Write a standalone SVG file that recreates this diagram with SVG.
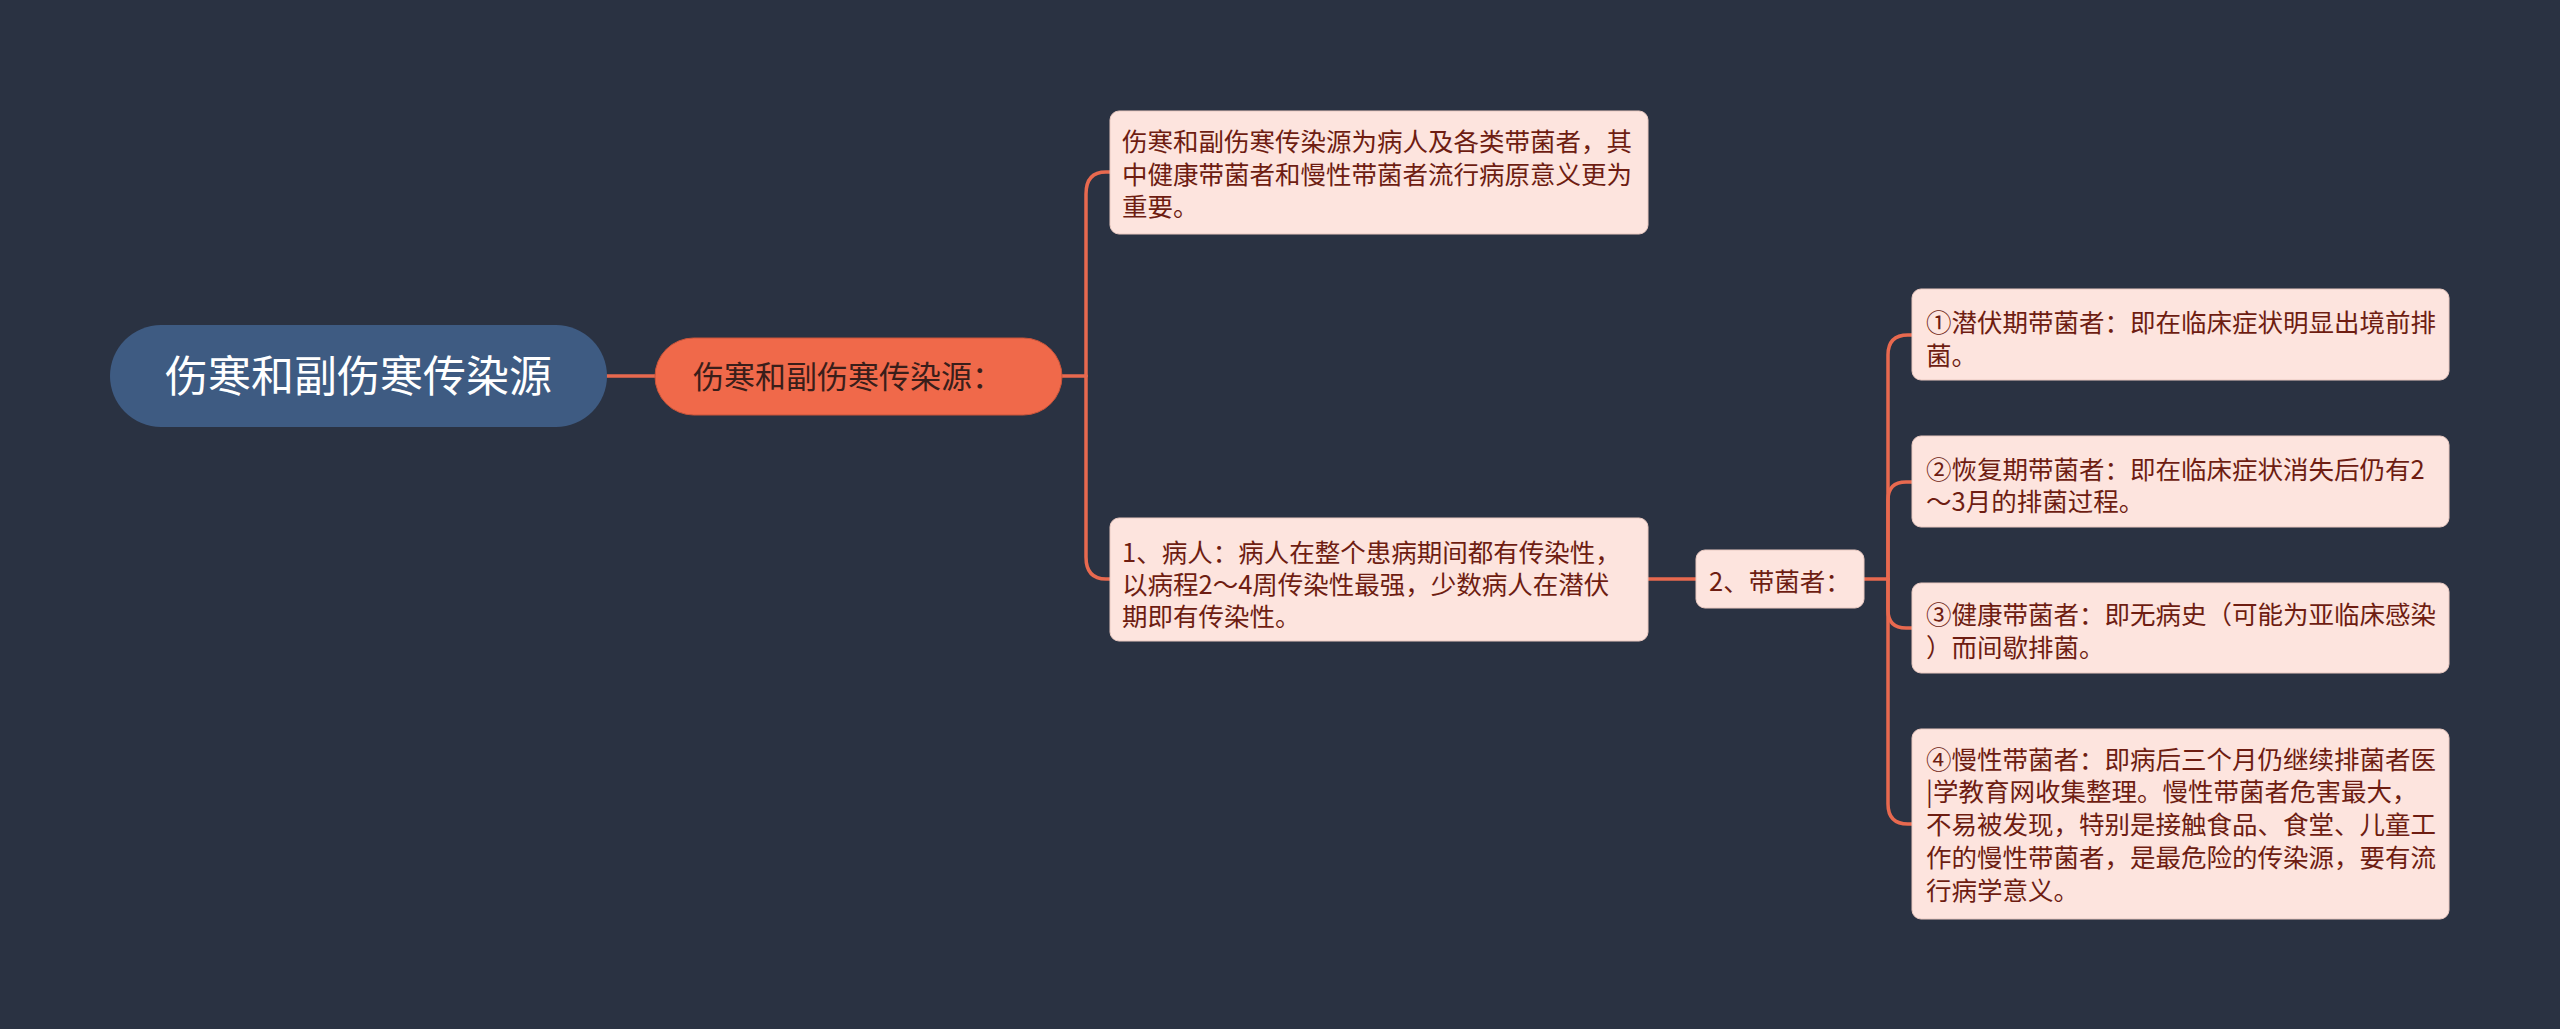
<svg xmlns="http://www.w3.org/2000/svg" width="2560" height="1029" viewBox="0 0 2560 1029">
<style>
.bg{fill:#2a3242}
.conn{fill:none;stroke:#e8694f;stroke-width:3.5;stroke-linecap:round}
.root{fill:#3e5b82}
.sub{fill:#f0694a;stroke:#c9553b;stroke-width:1}
.leaf{fill:#fde4de;stroke:#e9c9c1;stroke-width:1}
text{font-family:"Noto Sans CJK SC","Noto Sans",sans-serif}
.rt{fill:#ffffff;font-size:43px}
.st{fill:#3a1e1a;font-size:31px}
.lt{fill:#6e1d12;font-size:25.5px}
</style>
<rect class="bg" x="0" y="0" width="2560" height="1029"/>
<g id="connectors">
<path class="conn" d="M607,376 H655"/>
<path class="conn" d="M1062,376 H1086"/>
<path class="conn" d="M1086,376 V194 Q1086,172 1106,172 H1110"/>
<path class="conn" d="M1086,376 V557 Q1086,579 1106,579 H1110"/>
<path class="conn" d="M1648,579 H1696"/>
<path class="conn" d="M1864,579 H1888"/>
<path class="conn" d="M1888,579 V355 Q1888,335 1908,335 H1912"/>
<path class="conn" d="M1888,579 V500 Q1888,482 1906,482 H1912"/>
<path class="conn" d="M1888,579 V610 Q1888,628 1906,628 H1912"/>
<path class="conn" d="M1888,579 V804 Q1888,824 1908,824 H1912"/>
</g>
<g id="root">
<rect class="root" x="110" y="325" width="497" height="102" rx="51"/>
<text class="rt" x="358.5" y="392" text-anchor="middle">伤寒和副伤寒传染源</text>
</g>
<g id="sub">
<rect class="sub" x="655" y="338" width="407" height="77" rx="38.5"/>
<text class="st" x="693" y="388">伤寒和副伤寒传染源：</text>
</g>
<g id="leaf-top">
<rect class="leaf" x="1110" y="111" width="538" height="123" rx="9"/>
<text class="lt" x="1122" y="151">伤寒和副伤寒传染源为病人及各类带菌者，其</text>
<text class="lt" x="1122" y="184">中健康带菌者和慢性带菌者流行病原意义更为</text>
<text class="lt" x="1122" y="216">重要。</text>
</g>
<g id="leaf-patient">
<rect class="leaf" x="1110" y="518" width="538" height="123" rx="9"/>
<text class="lt" x="1122" y="562">1、病人：病人在整个患病期间都有传染性，</text>
<text class="lt" x="1122" y="594">以病程2～4周传染性最强，少数病人在潜伏</text>
<text class="lt" x="1122" y="626">期即有传染性。</text>
</g>
<g id="carrier">
<rect class="leaf" x="1696" y="550" width="168" height="58" rx="9"/>
<text class="lt" x="1709" y="591">2、带菌者：</text>
</g>
<g id="c1">
<rect class="leaf" x="1912" y="289" width="537" height="91" rx="9"/>
<text class="lt" x="1926" y="332">①潜伏期带菌者：即在临床症状明显出境前排</text>
<text class="lt" x="1926" y="365">菌。</text>
</g>
<g id="c2">
<rect class="leaf" x="1912" y="436" width="537" height="91" rx="9"/>
<text class="lt" x="1926" y="479">②恢复期带菌者：即在临床症状消失后仍有2</text>
<text class="lt" x="1926" y="511">～3月的排菌过程。</text>
</g>
<g id="c3">
<rect class="leaf" x="1912" y="583" width="537" height="90" rx="9"/>
<text class="lt" x="1926" y="624">③健康带菌者：即无病史（可能为亚临床感染</text>
<text class="lt" x="1926" y="657">）而间歇排菌。</text>
</g>
<g id="c4">
<rect class="leaf" x="1912" y="729" width="537" height="190" rx="9"/>
<text class="lt" x="1926" y="769">④慢性带菌者：即病后三个月仍继续排菌者医</text>
<text class="lt" x="1926" y="801">|学教育网收集整理。慢性带菌者危害最大，</text>
<text class="lt" x="1926" y="834">不易被发现，特别是接触食品、食堂、儿童工</text>
<text class="lt" x="1926" y="867">作的慢性带菌者，是最危险的传染源，要有流</text>
<text class="lt" x="1926" y="900">行病学意义。</text>
</g>
</svg>
